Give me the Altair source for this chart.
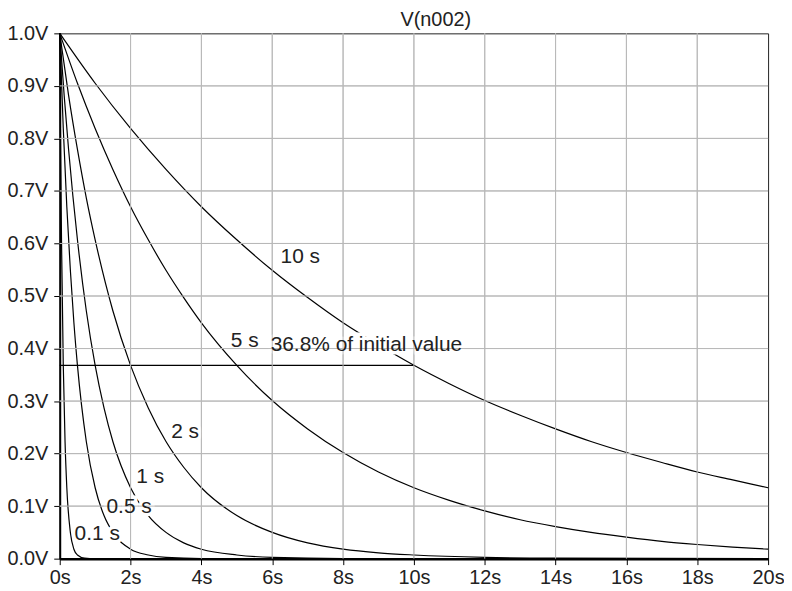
import altair as alt
import pandas as pd

# ---- values (time in s, voltage in V) ----
t_10 = [0, 1, 2, 3, 4, 5, 6, 7, 8, 9, 10, 11, 12, 13, 14, 15, 16, 17, 18, 19, 20]
v_10 = [1.0, 0.905, 0.819, 0.741, 0.670, 0.607, 0.549, 0.497, 0.449, 0.407, 0.368,
        0.333, 0.301, 0.273, 0.247, 0.223, 0.202, 0.183, 0.165, 0.150, 0.135]

t_5 = [0, 0.5, 1, 1.5, 2, 2.5, 3, 3.5, 4, 5, 6, 7, 8, 9, 10, 11, 12, 13, 14, 15, 16, 17, 18, 19, 20]
v_5 = [1.0, 0.905, 0.819, 0.741, 0.670, 0.607, 0.549, 0.497, 0.449, 0.368, 0.301, 0.247,
       0.202, 0.165, 0.135, 0.111, 0.091, 0.074, 0.061, 0.050, 0.041, 0.033, 0.027, 0.022, 0.018]

t_2 = [0, 0.25, 0.5, 0.75, 1, 1.5, 2, 2.5, 3, 3.5, 4, 5, 6, 7, 8, 9, 10, 12, 14, 20]
v_2 = [1.0, 0.882, 0.779, 0.687, 0.607, 0.472, 0.368, 0.287, 0.223, 0.174, 0.135, 0.082,
       0.050, 0.030, 0.018, 0.011, 0.007, 0.0025, 0.001, 0.0]

t_1 = [0, 0.125, 0.25, 0.5, 0.75, 1, 1.25, 1.5, 2, 2.5, 3, 3.5, 4, 5, 6, 8, 20]
v_1 = [1.0, 0.882, 0.779, 0.607, 0.472, 0.368, 0.287, 0.223, 0.135, 0.082, 0.050, 0.030,
       0.018, 0.007, 0.0025, 0.0003, 0.0]

t_05 = [0, 0.1, 0.2, 0.3, 0.4, 0.5, 0.75, 1, 1.25, 1.5, 2, 2.5, 3, 4, 20]
v_05 = [1.0, 0.819, 0.670, 0.549, 0.449, 0.368, 0.223, 0.135, 0.082, 0.050, 0.018, 0.007,
        0.0025, 0.0003, 0.0]

t_01 = [0, 0.02, 0.05, 0.1, 0.15, 0.2, 0.3, 0.4, 0.5, 0.7, 1, 20]
v_01 = [1.0, 0.819, 0.607, 0.368, 0.223, 0.135, 0.050, 0.018, 0.007, 0.001, 0.0, 0.0]

series = [("10 s", t_10, v_10), ("5 s", t_5, v_5), ("2 s", t_2, v_2),
          ("1 s", t_1, v_1), ("0.5 s", t_05, v_05), ("0.1 s", t_01, v_01)]

# reference level line
ref_level = [0.368]
ref_t0 = [0]
ref_t1 = [10]

# annotations
label_text = ["10 s", "5 s", "36.8% of initial value", "2 s", "1 s", "0.5 s", "0.1 s"]
label_t = [6.236, 4.83, 5.955, 3.146, 2.163, 1.32, 0.42]
label_v = [0.562, 0.4025, 0.395, 0.2305, 0.1434, 0.0871, 0.0347]

x_ticks = [0, 2, 4, 6, 8, 10, 12, 14, 16, 18, 20]
y_ticks = [0.0, 0.1, 0.2, 0.3, 0.4, 0.5, 0.6, 0.7, 0.8, 0.9, 1.0]

title_text = "V(n002)"

FONT = "Liberation Sans"

rows = []
for name, ts, vs in series:
    for t, v in zip(ts, vs):
        rows.append({"series": name, "t": t, "v": v})
df = pd.DataFrame(rows)

df_ref = pd.DataFrame({"t0": ref_t0, "t1": ref_t1, "v": ref_level})
df_lab = pd.DataFrame({"text": label_text, "t": label_t, "v": label_v})
df_gx = pd.DataFrame({"t": x_ticks[1:-1]})
df_gy = pd.DataFrame({"v": y_ticks[1:-1]})

xs = alt.Scale(domain=[0, 20], nice=False, zero=False)
ys = alt.Scale(domain=[0, 1], nice=False)

x_enc = alt.X("t:Q", scale=xs, title=None,
              axis=alt.Axis(values=x_ticks, labelExpr="datum.value + 's'", grid=False,
                            domainColor="black", domainWidth=2.5, tickColor="black",
                            tickSize=6, tickWidth=1, labelPadding=3,
                            labelFont=FONT, labelFontSize=20, labelColor="#222",
                            labelFlush=False))
y_enc = alt.Y("v:Q", scale=ys, title=None,
              axis=alt.Axis(values=y_ticks, labelExpr="format(datum.value, '.1f') + 'V'",
                            grid=False, domainColor="black", domainWidth=2,
                            tickColor="black", tickSize=6, tickWidth=1, labelPadding=6,
                            labelFont=FONT, labelFontSize=20, labelColor="#222",
                            labelFlush=False))

grid_color = "#b8b8b8"
grid_under_x = alt.Chart(df_gx).mark_rule(color=grid_color, strokeWidth=1).encode(x=alt.X("t:Q", scale=xs))
grid_under_y = alt.Chart(df_gy).mark_rule(color=grid_color, strokeWidth=1).encode(y=alt.Y("v:Q", scale=ys))

curves = alt.Chart(df).mark_line(color="black", strokeWidth=1.2, interpolate="monotone").encode(
    x=x_enc, y=y_enc, detail="series:N")

ref_line = alt.Chart(df_ref).mark_rule(color="black", strokeWidth=1.3).encode(
    x=alt.X("t0:Q", scale=xs), x2="t1:Q", y=alt.Y("v:Q", scale=ys))

halo = alt.Chart(df_lab).mark_text(align="left", baseline="alphabetic", font=FONT, fontSize=21,
                                   fill="white", stroke="white", strokeWidth=7).encode(
    x=alt.X("t:Q", scale=xs), y=alt.Y("v:Q", scale=ys), text="text:N")

grid_over_x = alt.Chart(df_gx).mark_rule(color=grid_color, strokeWidth=1).encode(x=alt.X("t:Q", scale=xs))
grid_over_y = alt.Chart(df_gy).mark_rule(color=grid_color, strokeWidth=1).encode(y=alt.Y("v:Q", scale=ys))

labels = alt.Chart(df_lab).mark_text(align="left", baseline="alphabetic", font=FONT, fontSize=21,
                                     color="#222").encode(
    x=alt.X("t:Q", scale=xs), y=alt.Y("v:Q", scale=ys), text="text:N")

title = alt.Chart(pd.DataFrame({"text": [title_text]})).mark_text(
    align="center", baseline="alphabetic", font=FONT, fontSize=20, color="#222").encode(
    x=alt.value(378), y=alt.value(-7), text="text:N")

chart = alt.layer(grid_under_x, grid_under_y, curves, ref_line, halo,
                  grid_over_x, grid_over_y, labels, title).properties(
    width=712, height=528,
    autosize=alt.AutoSizeParams(type="none"),
    padding={"left": 52, "top": 24, "right": 16, "bottom": 27},
    background="white",
).configure_view(stroke="#222", strokeWidth=1)

chart.save("out.html", embed_options={"renderer": "svg", "actions": False})
